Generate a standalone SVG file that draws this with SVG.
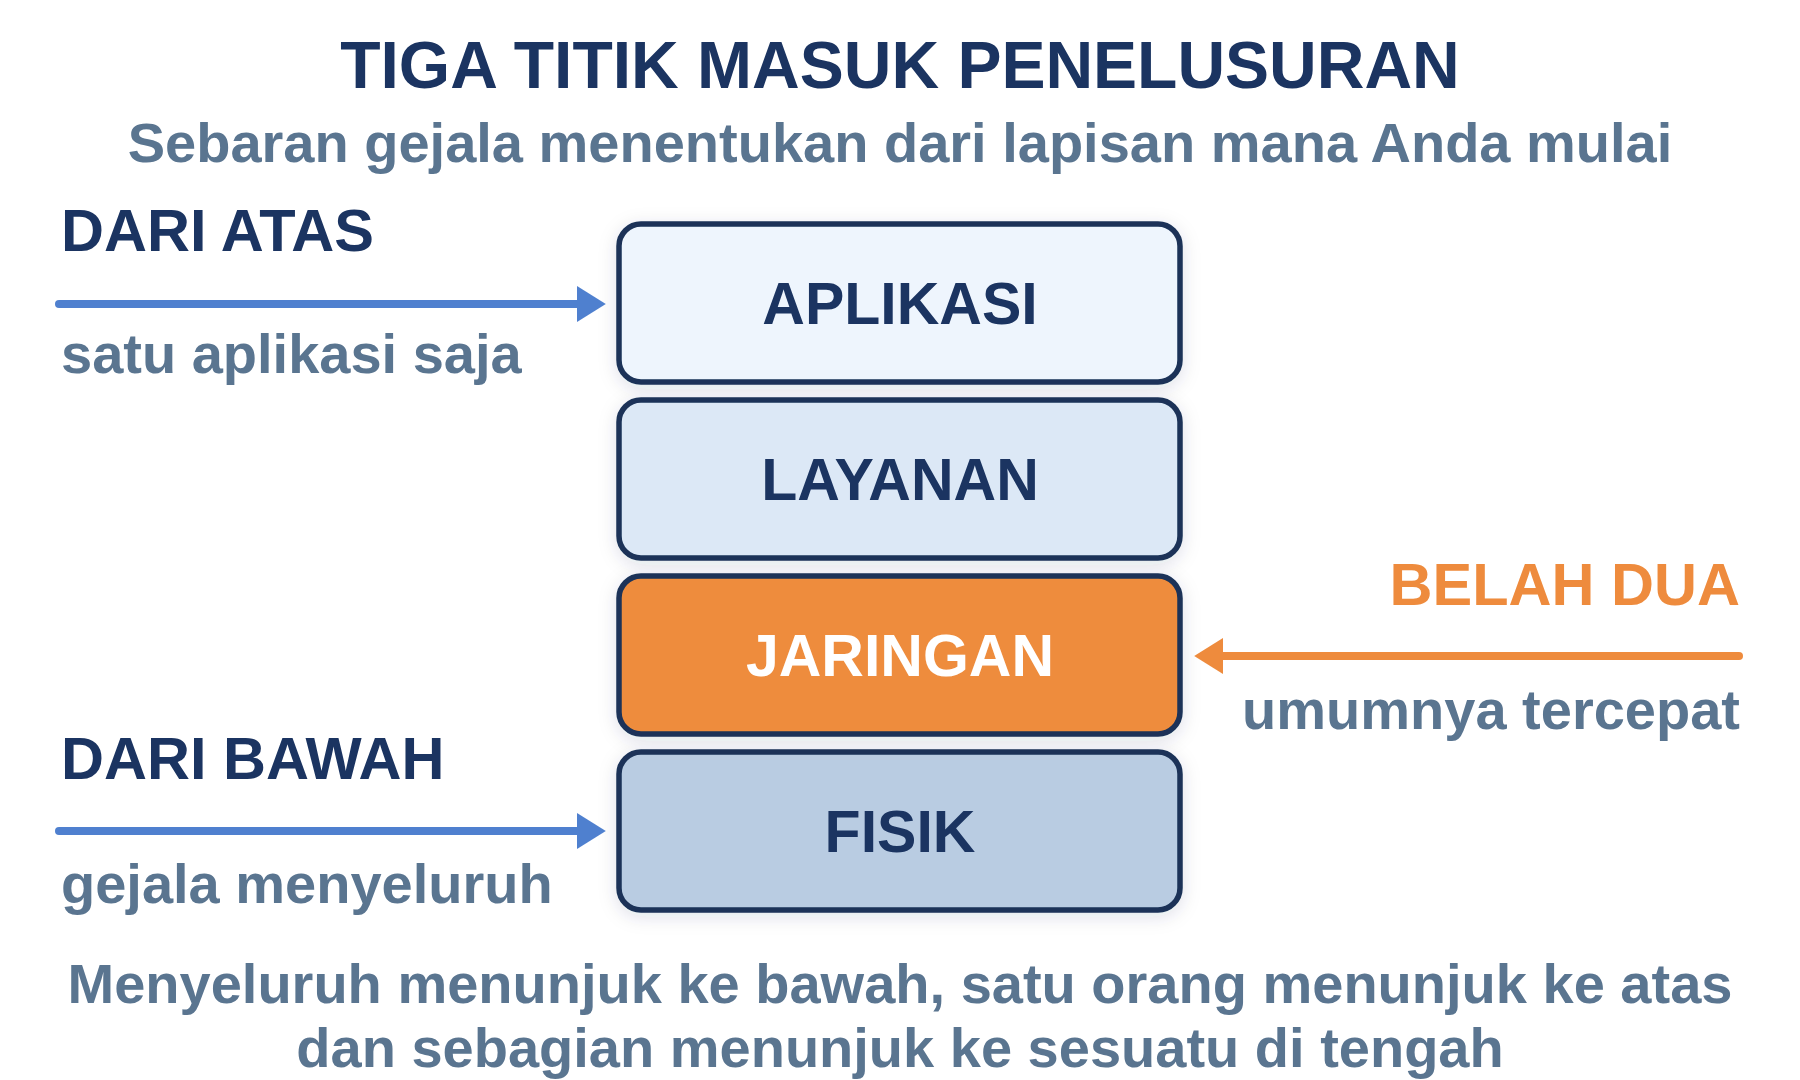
<svg xmlns="http://www.w3.org/2000/svg" width="1800" height="1080" viewBox="0 0 1800 1080">
<defs>
<style>
text{font-family:"Liberation Sans",Arial,Helvetica,sans-serif;font-weight:bold}
.title{font-size:66px;fill:#1b3461}
.sub{font-size:56px;fill:#5a7590}
.head{font-size:59.5px;fill:#1b3461}
.box{stroke:#1a3358;stroke-width:5.5}
.lbl{font-size:59px;fill:#1b3461;text-anchor:middle}
</style>
<filter id="sh" x="-10%" y="-20%" width="120%" height="140%">
<feDropShadow dx="0" dy="4" stdDeviation="9" flood-color="#1a3358" flood-opacity="0.13"/>
</filter>
<marker id="ab" viewBox="0 0 10 10" refX="0" refY="5" markerWidth="3.6" markerHeight="4.5" orient="auto" markerUnits="strokeWidth" preserveAspectRatio="none">
<path d="M0,0 L10,5 L0,10 Z" fill="#4f80cf"/>
</marker>
<marker id="ao" viewBox="0 0 10 10" refX="0" refY="5" markerWidth="3.6" markerHeight="4.5" orient="auto" markerUnits="strokeWidth" preserveAspectRatio="none">
<path d="M0,0 L10,5 L0,10 Z" fill="#ee8b3d"/>
</marker>
</defs>
<rect width="1800" height="1080" fill="#ffffff"/>
<text class="title" x="900" y="88" text-anchor="middle">TIGA TITIK MASUK PENELUSURAN</text>
<text class="sub" x="900" y="162" text-anchor="middle">Sebaran gejala menentukan dari lapisan mana Anda mulai</text>

<g id="node-aplikasi">
<rect class="box" x="619" y="224" width="561" height="158" rx="22" fill="#eef5fd" filter="url(#sh)"/>
<text class="lbl" x="900" y="324">APLIKASI</text>
</g>
<g id="node-layanan">
<rect class="box" x="619" y="400" width="561" height="158" rx="22" fill="#dce8f6" filter="url(#sh)"/>
<text class="lbl" x="900" y="500">LAYANAN</text>
</g>
<g id="node-jaringan">
<rect class="box" x="619" y="576" width="561" height="158" rx="22" fill="#ee8c3c" filter="url(#sh)"/>
<text class="lbl" x="900" y="676" style="fill:#ffffff">JARINGAN</text>
</g>
<g id="node-fisik">
<rect class="box" x="619" y="752" width="561" height="158" rx="22" fill="#b9cce2" filter="url(#sh)"/>
<text class="lbl" x="900" y="852">FISIK</text>
</g>

<g id="connectors" fill="none" stroke-width="8" stroke-linecap="round">
<line x1="59" y1="304" x2="577" y2="304" stroke="#4f80cf" marker-end="url(#ab)"/>
<line x1="59" y1="831" x2="577" y2="831" stroke="#4f80cf" marker-end="url(#ab)"/>
<line x1="1739" y1="656" x2="1223" y2="656" stroke="#ee8b3d" marker-end="url(#ao)"/>
</g>

<g id="label-atas">
<text class="head" x="61" y="251">DARI ATAS</text>
<text class="sub" x="61" y="373">satu aplikasi saja</text>
</g>
<g id="label-bawah">
<text class="head" x="61" y="779">DARI BAWAH</text>
<text class="sub" x="61" y="903">gejala menyeluruh</text>
</g>
<g id="label-tengah">
<text class="head" x="1740" y="605" text-anchor="end" style="fill:#ee8b3d">BELAH DUA</text>
<text class="sub" x="1740" y="729" text-anchor="end">umumnya tercepat</text>
</g>

<text class="sub" x="900" y="1003" text-anchor="middle">Menyeluruh menunjuk ke bawah, satu orang menunjuk ke atas</text>
<text class="sub" x="900" y="1067" text-anchor="middle">dan sebagian menunjuk ke sesuatu di tengah</text>
</svg>
